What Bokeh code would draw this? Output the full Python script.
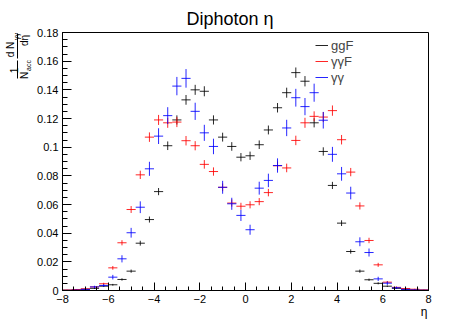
import numpy as np
from bokeh.plotting import figure
from bokeh.layouts import row
from bokeh.models import Legend, LegendItem, FixedTicker, Range1d, Title
from bokeh.embed import file_html
from bokeh.resources import INLINE

# ---- data ----
eta = [-7.8, -7.4, -7.0, -6.6, -6.2, -5.8, -5.4, -5.0, -4.6, -4.2,
       -3.8, -3.4, -3.0, -2.6, -2.2, -1.8, -1.4, -1.0, -0.6, -0.2,
       0.2, 0.6, 1.0, 1.4, 1.8, 2.2, 2.6, 3.0, 3.4, 3.8,
       4.2, 4.6, 5.0, 5.4, 5.8, 6.2, 6.6, 7.0, 7.4, 7.8]
bin_half_width = 0.2

ggF = [0.0002, 0.0004, 0.0008, 0.0015, 0.003, 0.004, 0.0077, 0.0135, 0.033, 0.0495,
       0.069, 0.101, 0.119, 0.133, 0.140, 0.139, 0.119, 0.107, 0.1005, 0.093,
       0.094, 0.1017, 0.112, 0.1275, 0.138, 0.152, 0.146, 0.117, 0.097, 0.0733,
       0.047, 0.0272, 0.0135, 0.0075, 0.005, 0.003, 0.0015, 0.0008, 0.0004, 0.0002]
ggF_err = [0.0001, 0.0002, 0.0003, 0.0004, 0.0005, 0.0006, 0.0008, 0.0011, 0.0017, 0.0021,
           0.0025, 0.003, 0.0032, 0.0034, 0.0035, 0.0035, 0.0032, 0.0031, 0.003, 0.0029,
           0.0029, 0.003, 0.0031, 0.0033, 0.0035, 0.0036, 0.0036, 0.0032, 0.0029, 0.0025,
           0.002, 0.0015, 0.0011, 0.0008, 0.0007, 0.0005, 0.0004, 0.0003, 0.0002, 0.0001]

aaF = [0.0003, 0.0007, 0.0012, 0.0025, 0.0047, 0.0158, 0.0333, 0.0565, 0.0807, 0.107,
       0.119, 0.117, 0.1175, 0.1045, 0.101, 0.088, 0.083, 0.072, 0.061, 0.0588,
       0.0598, 0.062, 0.0683, 0.087, 0.0855, 0.1047, 0.117, 0.1215, 0.121, 0.1255,
       0.1052, 0.0826, 0.059, 0.0349, 0.0179, 0.0058, 0.0022, 0.0014, 0.0009, 0.0004]
aaF_err = [0.0002, 0.0003, 0.0004, 0.0005, 0.0007, 0.0013, 0.0018, 0.0024, 0.0029, 0.0033,
           0.0035, 0.0035, 0.0035, 0.0033, 0.0032, 0.003, 0.0029, 0.0027, 0.0025, 0.0024,
           0.0025, 0.0025, 0.0026, 0.003, 0.003, 0.0033, 0.0035, 0.0035, 0.0035, 0.0036,
           0.0033, 0.0029, 0.0025, 0.0019, 0.0014, 0.0008, 0.0005, 0.0004, 0.0003, 0.0002]

aa = [0.0001, 0.0003, 0.0008, 0.0025, 0.0035, 0.0093, 0.0221, 0.0403, 0.0581, 0.0849,
      0.1077, 0.122, 0.1426, 0.148, 0.125, 0.110, 0.1005, 0.072, 0.0605, 0.0524,
      0.0424, 0.0714, 0.0768, 0.0872, 0.1134, 0.1345, 0.1283, 0.138, 0.1188, 0.095,
      0.0814, 0.068, 0.034, 0.0265, 0.0081, 0.0051, 0.0019, 0.0008, 0.0004, 0.0002]
aa_err = [0.0002, 0.0003, 0.0005, 0.0008, 0.001, 0.0016, 0.0025, 0.0034, 0.0041, 0.0049,
          0.0055, 0.0059, 0.0064, 0.0065, 0.006, 0.0056, 0.0054, 0.0045, 0.0042, 0.0039,
          0.0035, 0.0045, 0.0047, 0.005, 0.0057, 0.0062, 0.006, 0.0063, 0.0058, 0.0052,
          0.0048, 0.0044, 0.0031, 0.0028, 0.0015, 0.0012, 0.0007, 0.0005, 0.0003, 0.0002]

series_names = ["ggF", "\u03b3\u03b3F", "\u03b3\u03b3"]
series_colors = ["#000000", "#ff0000", "#0000ff"]

x_ticks = [-8, -6, -4, -2, 0, 2, 4, 6, 8]
y_ticks = [0.0, 0.02, 0.04, 0.06, 0.08, 0.1, 0.12, 0.14, 0.16, 0.18]
y_tick_labels = ["0", "0.02", "0.04", "0.06", "0.08", "0.1", "0.12", "0.14", "0.16", "0.18"]

title_text = "Diphoton \u03b7"
x_label_text = "\u03b7"

FONT = "Liberation Sans"
W, H = 475, 323
LABEL_W = 32
TOP, BOTTOM = 32, 33   # frame borders shared by both panels

# ---- main plot ----
p = figure(width=W - LABEL_W, height=H, output_backend="svg", toolbar_location=None,
           x_range=Range1d(-8, 8), y_range=Range1d(0, 0.18),
           min_border_left=30, min_border_right=47, min_border_top=TOP, min_border_bottom=BOTTOM)
p.xgrid.visible = False
p.ygrid.visible = False
p.outline_line_color = "black"
p.outline_line_alpha = 1.0
p.outline_line_width = 1
p.background_fill_color = "white"
p.border_fill_color = "white"

p.title.text = title_text
p.title.align = "left"
p.title.offset = 124
p.title.text_font = FONT
p.title.text_font_size = "18px"
p.title.text_font_style = "normal"
p.title.text_color = "black"
p.title.standoff = 8

p.xaxis.ticker = FixedTicker(ticks=x_ticks, minor_ticks=list(np.arange(-8, 8.01, 0.5)))
p.yaxis.ticker = FixedTicker(ticks=y_ticks, minor_ticks=list(np.round(np.arange(0, 0.1801, 0.005), 3)))
p.yaxis.major_label_overrides = {t: s for t, s in zip(y_ticks, y_tick_labels)}
for ax in (p.xaxis[0], p.yaxis[0]):
    ax.axis_line_color = "black"
    ax.major_tick_line_color = "black"
    ax.minor_tick_line_color = "black"
    ax.major_tick_out = 0
    ax.minor_tick_out = 0
    ax.major_label_text_font = FONT
    ax.major_label_text_font_size = "11px"
    ax.major_label_text_color = "black"
p.xaxis.major_tick_in = 8
p.xaxis.minor_tick_in = 4
p.yaxis.major_tick_in = 9
p.yaxis.minor_tick_in = 5
p.xaxis.major_label_standoff = 4
p.yaxis.major_label_standoff = 4

p.add_layout(Title(text=x_label_text, align="right", text_font=FONT, text_font_size="12px",
                   text_font_style="normal", text_color="black", standoff=-5, offset=1), "below")

eta_a = np.array(eta)
items = []
for name, vals, errs, col in zip(series_names, [ggF, aaF, aa], [ggF_err, aaF_err, aa_err], series_colors):
    v = np.array(vals)
    e = np.array(errs)
    h = p.segment(x0=eta_a - bin_half_width, y0=v, x1=eta_a + bin_half_width, y1=v,
                  line_color=col, line_width=1, line_alpha=0.85)
    p.segment(x0=eta_a, y0=v - e, x1=eta_a, y1=v + e,
              line_color=col, line_width=1, line_alpha=0.85)
    items.append(LegendItem(label=name, renderers=[h]))

legend = Legend(items=items, location=(253, 205), label_text_font=FONT,
                label_text_font_size="13px", glyph_width=13, glyph_height=16,
                label_height=16, spacing=0, padding=0, margin=0,
                border_line_alpha=0, background_fill_alpha=0, label_standoff=3)
p.add_layout(legend)

# ---- y-axis title panel (rotated fractions); positions given in px from the top ----
# its frame spans the same rows as the main frame; y range maps px-from-top directly
lf = figure(width=LABEL_W, height=H, output_backend="svg", toolbar_location=None, title=None,
            x_range=Range1d(0, LABEL_W), y_range=Range1d(BOTTOM, H - TOP),
            x_axis_type=None, y_axis_type=None,
            min_border_left=0, min_border_right=0, min_border_top=TOP, min_border_bottom=BOTTOM)
lf.xgrid.visible = False
lf.ygrid.visible = False
lf.outline_line_color = None
lf.background_fill_color = "white"
lf.border_fill_color = "white"

big = ["1", "N", "d N", "d\u03b7"]
big_x = [13, 23.5, 10, 23.5]
big_top = [70, 75, 49, 40]
small = ["acc", "\u03b3\u03b3"]
small_x = [28, 15.5]
small_top = [65, 36]
bar_x = [17, 17]
bar_top0 = [60, 33]
bar_top1 = [78, 58]
lf.text(x=big_x, y=[H - t for t in big_top], text=big, angle=np.pi / 2, text_align="center",
        text_baseline="middle", text_font_size="10px", text_font={"value": FONT},
        text_color="black")
lf.text(x=small_x, y=[H - t for t in small_top], text=small, angle=np.pi / 2, text_align="center",
        text_baseline="middle", text_font_size="7px", text_font={"value": FONT},
        text_color="black")
lf.segment(x0=bar_x, y0=[H - t for t in bar_top0], x1=bar_x, y1=[H - t for t in bar_top1],
           line_color="black", line_width=1)

layout = row(lf, p, spacing=0)
open("out.html", "w").write(file_html(layout, INLINE))
